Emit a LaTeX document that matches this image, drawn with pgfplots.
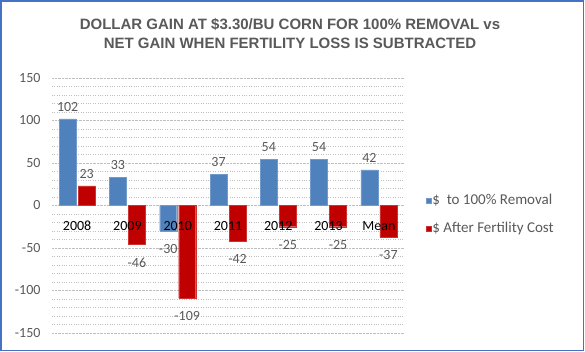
\documentclass[border=0pt]{standalone}
\usepackage{pgfplots}
\pgfplotsset{compat=1.18}
\usepackage{fontspec}
\setmainfont{Carlito}
\newfontfamily\titlefont{Liberation Sans}
\definecolor{barblue}{HTML}{4F81BD}
\definecolor{barred}{HTML}{C00000}
\definecolor{txtgray}{HTML}{595959}
\definecolor{framecol}{HTML}{4472C4}
\definecolor{gridgray}{HTML}{BFBFBF}
\begin{document}
\begin{tikzpicture}[x=1pt,y=1pt]
\path[use as bounding box] (0,0) rectangle (585,352);
\draw[framecol, line width=1.5pt] (1,1.5) rectangle (583.5,351);
\node[font=\titlefont\bfseries\fontsize{15}{18.5}\selectfont, text=txtgray, align=center] at (290,318.5) {DOLLAR GAIN AT \$3.30/BU CORN FOR 100\% REMOVAL vs\\NET GAIN WHEN FERTILITY LOSS IS SUBTRACTED};
\begin{axis}[
  at={(52pt,19pt)}, anchor=south west,
  scale only axis, width=352pt, height=255pt,
  ybar, bar width=17pt,
  xmin=-0.5, xmax=6.5, ymin=-150, ymax=150,
  axis line style={draw=none},
  xtick=\empty,
  ytick={-150,-100,...,150},
  minor y tick num=4,
  major tick length=0pt, minor tick length=0pt,
  ymajorgrids, yminorgrids,
  major grid style={gridgray, densely dotted, line width=0.8pt},
  minor grid style={gridgray, dotted, line width=0.6pt},
  /pgf/number format/assume math mode=true,
  yticklabel style={font=\fontsize{14}{14}\selectfont, text=txtgray, xshift=-8pt},
  nodes near coords,
  nodes near coords style={font=\fontsize{14}{14}\selectfont, text=txtgray, inner sep=7.5pt, text height=15pt, text depth=0pt, /pgf/number format/assume math mode=true},
  legend style={at={(1.052,0.465)}, anchor=west, draw=none, fill=none,
    font=\fontsize{15}{15}\selectfont, text=txtgray, row sep=13pt,
    nodes={inner sep=1.5pt},
    legend cell align=left},
  legend image code/.code={\fill[#1] (0pt,-2.5pt) rectangle (5pt,2.5pt);},
  clip=false,
]
\addplot[fill=barblue, draw=barblue!80!white] coordinates {(0,102) (1,33) (2,-30) (3,37) (4,54) (5,54) (6,42)};
\addplot[fill=barred, draw=barred!80!white] coordinates {(0,23) (1,-46) (2,-109) (3,-42) (4,-25) (5,-25) (6,-37)};
\legend{\$\ \ to 100\% Removal, \$ After Fertility Cost}
\addplot[forget plot, draw=none, fill=none, bar shift=0pt, bar width=0.001pt,
  point meta=explicit symbolic,
  nodes near coords={\pgfplotspointmeta},
  nodes near coords align={below},
  nodes near coords style={font=\fontsize{14}{14}\selectfont, text=black, anchor=north, inner sep=3pt, text height=, text depth=, yshift=-12.5pt}]
  table[meta=label] {
x y label
0 0 2008
1 0 2009
2 0 2010
3 0 2011
4 0 2012
5 0 2013
6 0 Mean
};
\end{axis}
\end{tikzpicture}
\end{document}
